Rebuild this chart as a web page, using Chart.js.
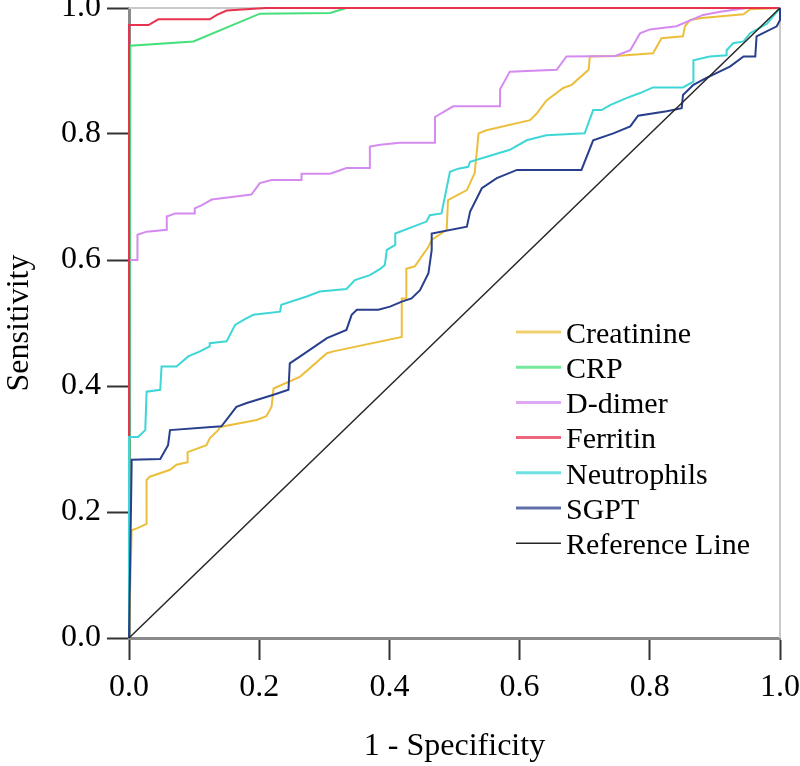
<!DOCTYPE html>
<html lang="en">
<head>
  <meta charset="UTF-8">
  <title>ROC curves</title>
  <script src="https://cdn.jsdelivr.net/npm/chart.js"></script>
  <style>
    body {
      margin: 0;
      background-color: #ffffff;
    }
  </style>
</head>
<body>
  <canvas id="rocChart" width="800" height="766"></canvas>
  <script>
    // 1 - specificity (x) and sensitivity (y) for each marker
    var creatinineX = [0, 0.004, 0.012, 0.027, 0.027, 0.032, 0.063, 0.073, 0.09, 0.09, 0.119, 0.124, 0.137, 0.14, 0.196, 0.211, 0.219, 0.222, 0.263, 0.304, 0.314, 0.419, 0.419, 0.426, 0.426, 0.439, 0.46, 0.465, 0.488, 0.49, 0.519, 0.531, 0.537, 0.549, 0.616, 0.626, 0.641, 0.667, 0.68, 0.706, 0.708, 0.747, 0.805, 0.818, 0.851, 0.854, 0.862, 0.88, 0.944, 0.954, 1];
    var creatinineY = [0, 0.171, 0.174, 0.181, 0.251, 0.256, 0.267, 0.275, 0.279, 0.295, 0.306, 0.317, 0.33, 0.335, 0.346, 0.352, 0.367, 0.396, 0.415, 0.452, 0.455, 0.478, 0.539, 0.539, 0.586, 0.59, 0.621, 0.632, 0.648, 0.695, 0.711, 0.738, 0.801, 0.806, 0.822, 0.832, 0.853, 0.873, 0.878, 0.902, 0.923, 0.924, 0.928, 0.952, 0.955, 0.971, 0.981, 0.984, 0.99, 0.998, 1];

    var crpX = [0, 0.002, 0.099, 0.201, 0.309, 0.334, 1];
    var crpY = [0, 0.94, 0.947, 0.991, 0.992, 1, 1];

    var ddimerX = [0, 0, 0.013, 0.013, 0.027, 0.058, 0.058, 0.071, 0.101, 0.101, 0.112, 0.127, 0.158, 0.188, 0.201, 0.219, 0.265, 0.265, 0.309, 0.334, 0.37, 0.37, 0.386, 0.416, 0.47, 0.47, 0.498, 0.57, 0.57, 0.585, 0.657, 0.672, 0.747, 0.77, 0.785, 0.8, 0.841, 0.882, 0.908, 0.949, 1];
    var ddimerY = [0, 0.6, 0.6, 0.64, 0.645, 0.648, 0.669, 0.674, 0.674, 0.682, 0.687, 0.696, 0.7, 0.704, 0.722, 0.727, 0.727, 0.737, 0.737, 0.746, 0.746, 0.78, 0.783, 0.786, 0.786, 0.827, 0.844, 0.844, 0.871, 0.899, 0.902, 0.923, 0.924, 0.933, 0.96, 0.966, 0.971, 0.989, 0.994, 1, 1];

    var ferritinX = [0, 0, 0.03, 0.045, 0.124, 0.135, 0.15, 0.21, 1];
    var ferritinY = [0, 0.973, 0.973, 0.982, 0.982, 0.989, 0.996, 1, 1];

    var neutrophilsX = [0, 0, 0.014, 0.025, 0.027, 0.048, 0.05, 0.073, 0.091, 0.109, 0.124, 0.124, 0.15, 0.163, 0.176, 0.191, 0.232, 0.234, 0.273, 0.293, 0.334, 0.347, 0.37, 0.386, 0.393, 0.396, 0.409, 0.409, 0.457, 0.462, 0.48, 0.493, 0.506, 0.521, 0.524, 0.585, 0.611, 0.641, 0.7, 0.713, 0.726, 0.739, 0.764, 0.785, 0.805, 0.851, 0.867, 0.867, 0.892, 0.918, 0.918, 0.928, 0.944, 0.954, 0.98, 1];
    var neutrophilsY = [0, 0.319, 0.319, 0.33, 0.391, 0.394, 0.431, 0.431, 0.447, 0.455, 0.463, 0.468, 0.471, 0.497, 0.505, 0.513, 0.518, 0.529, 0.542, 0.55, 0.554, 0.568, 0.576, 0.586, 0.592, 0.616, 0.624, 0.642, 0.661, 0.671, 0.674, 0.74, 0.745, 0.748, 0.756, 0.775, 0.79, 0.798, 0.801, 0.838, 0.838, 0.846, 0.857, 0.865, 0.874, 0.874, 0.883, 0.917, 0.923, 0.925, 0.933, 0.944, 0.947, 0.96, 0.975, 1];

    var sgptX = [0, 0.004, 0.004, 0.048, 0.06, 0.063, 0.142, 0.165, 0.181, 0.222, 0.245, 0.247, 0.263, 0.304, 0.334, 0.342, 0.35, 0.383, 0.401, 0.419, 0.434, 0.447, 0.46, 0.465, 0.465, 0.519, 0.524, 0.542, 0.565, 0.596, 0.695, 0.713, 0.744, 0.77, 0.782, 0.826, 0.849, 0.851, 0.867, 0.887, 0.923, 0.944, 0.962, 0.964, 0.995, 1, 1];
    var sgptY = [0, 0.272, 0.283, 0.284, 0.306, 0.33, 0.336, 0.367, 0.373, 0.386, 0.394, 0.436, 0.447, 0.476, 0.489, 0.513, 0.521, 0.521, 0.526, 0.534, 0.539, 0.552, 0.579, 0.616, 0.642, 0.653, 0.677, 0.714, 0.73, 0.743, 0.743, 0.79, 0.801, 0.812, 0.829, 0.836, 0.841, 0.862, 0.878, 0.889, 0.907, 0.923, 0.923, 0.955, 0.971, 0.981, 1];

    var referenceX = [0, 1];
    var referenceY = [0, 1];

    var seriesNames = ['Creatinine', 'CRP', 'D-dimer', 'Ferritin', 'Neutrophils', 'SGPT', 'Reference Line'];
    var seriesColors = ['#ebbf3c', '#45e07c', '#d58af0', '#e8334f', '#3ed6d6', '#283f8c', '#262626'];
    var tickValues = [0, 0.2, 0.4, 0.6, 0.8, 1.0];

    function toPoints(xs, ys) {
      var pts = [];
      for (var i = 0; i < xs.length; i++) {
        pts.push({ x: xs[i], y: ys[i] });
      }
      return pts;
    }

    var allX = [creatinineX, crpX, ddimerX, ferritinX, neutrophilsX, sgptX, referenceX];
    var allY = [creatinineY, crpY, ddimerY, ferritinY, neutrophilsY, sgptY, referenceY];

    var datasets = seriesNames.map(function (name, i) {
      return {
        label: name,
        data: toPoints(allX[i], allY[i]),
        borderColor: seriesColors[i],
        backgroundColor: seriesColors[i],
        borderWidth: i == 6 ? 1.5 : 2,
        showLine: true,
        pointRadius: 0,
        tension: 0,
        clip: false,
        // later series sit on top, like the original
        order: seriesNames.length - i
      };
    });

    // light frame on top and right of the plot
    var framePlugin = {
      id: 'frame',
      beforeDatasetsDraw: function (chart) {
        var a = chart.chartArea;
        var ctx = chart.ctx;
        ctx.save();
        ctx.strokeStyle = '#c9c9c9';
        ctx.lineWidth = 2;
        ctx.beginPath();
        ctx.moveTo(a.left, a.top);
        ctx.lineTo(a.right, a.top);
        ctx.lineTo(a.right, a.bottom);
        ctx.stroke();
        ctx.restore();
      }
    };

    // legend drawn inside the plot, lower right
    var insideLegend = {
      id: 'insideLegend',
      afterDatasetsDraw: function (chart) {
        var ctx = chart.ctx;
        ctx.save();
        ctx.font = '30px "Liberation Serif"';
        ctx.textBaseline = 'middle';
        ctx.fillStyle = '#000';
        chart.data.datasets.forEach(function (ds, i) {
          var y = 332 + i * 35.2;
          ctx.strokeStyle = ds.borderColor;
          ctx.globalAlpha = i == 6 ? 1 : 0.75;
          ctx.lineWidth = i == 6 ? 1.5 : 3;
          ctx.beginPath();
          ctx.moveTo(516, y);
          ctx.lineTo(561, y);
          ctx.stroke();
          ctx.globalAlpha = 1;
          ctx.fillText(ds.label, 566, y + 3);
        });
        ctx.restore();
      }
    };

    var ctx = document.getElementById('rocChart').getContext('2d');
    var rocChart = new Chart(ctx, {
      type: 'scatter',
      data: { datasets: datasets },
      options: {
        responsive: false,
        animation: false,
        layout: { padding: { top: 8, right: 20, left: 0, bottom: 0 } },
        plugins: {
          legend: { display: false },
          tooltip: { enabled: false }
        },
        scales: {
          x: {
            type: 'linear',
            min: 0,
            max: 1,
            afterBuildTicks: function (s) {
              s.ticks = tickValues.map(function (v) { return { value: v }; });
            },
            afterFit: function (s) {
              s.height = 128;
              s.paddingLeft = 0;
              s.paddingRight = 0;
            },
            ticks: {
              color: '#000',
              padding: 8,
              maxRotation: 0,
              font: { family: 'Liberation Serif', size: 32 },
              callback: function (v) { return v.toFixed(1); }
            },
            grid: {
              drawOnChartArea: false,
              tickLength: 22,
              tickWidth: 2,
              tickColor: '#333'
            },
            border: { color: '#8a8a8a', width: 3 },
            title: {
              display: true,
              text: '1 - Specificity',
              color: '#000',
              font: { family: 'Liberation Serif', size: 32 },
              padding: { top: 0, bottom: 0 }
            }
          },
          y: {
            type: 'linear',
            min: 0,
            max: 1,
            afterBuildTicks: function (s) {
              s.ticks = tickValues.map(function (v) { return { value: v }; });
            },
            afterFit: function (s) {
              s.width = 129;
              s.paddingTop = 0;
              s.paddingBottom = 0;
            },
            ticks: {
              color: '#000',
              padding: 6,
              font: { family: 'Liberation Serif', size: 32 },
              callback: function (v) { return v.toFixed(1); }
            },
            grid: {
              drawOnChartArea: false,
              tickLength: 22,
              tickWidth: 2,
              tickColor: '#333'
            },
            border: { color: '#8a8a8a', width: 3 },
            title: {
              display: true,
              text: 'Sensitivity',
              color: '#000',
              font: { family: 'Liberation Serif', size: 32 },
              padding: { top: 0, bottom: 0 }
            }
          }
        }
      },
      plugins: [framePlugin, insideLegend]
    });
  </script>
</body>
</html>
